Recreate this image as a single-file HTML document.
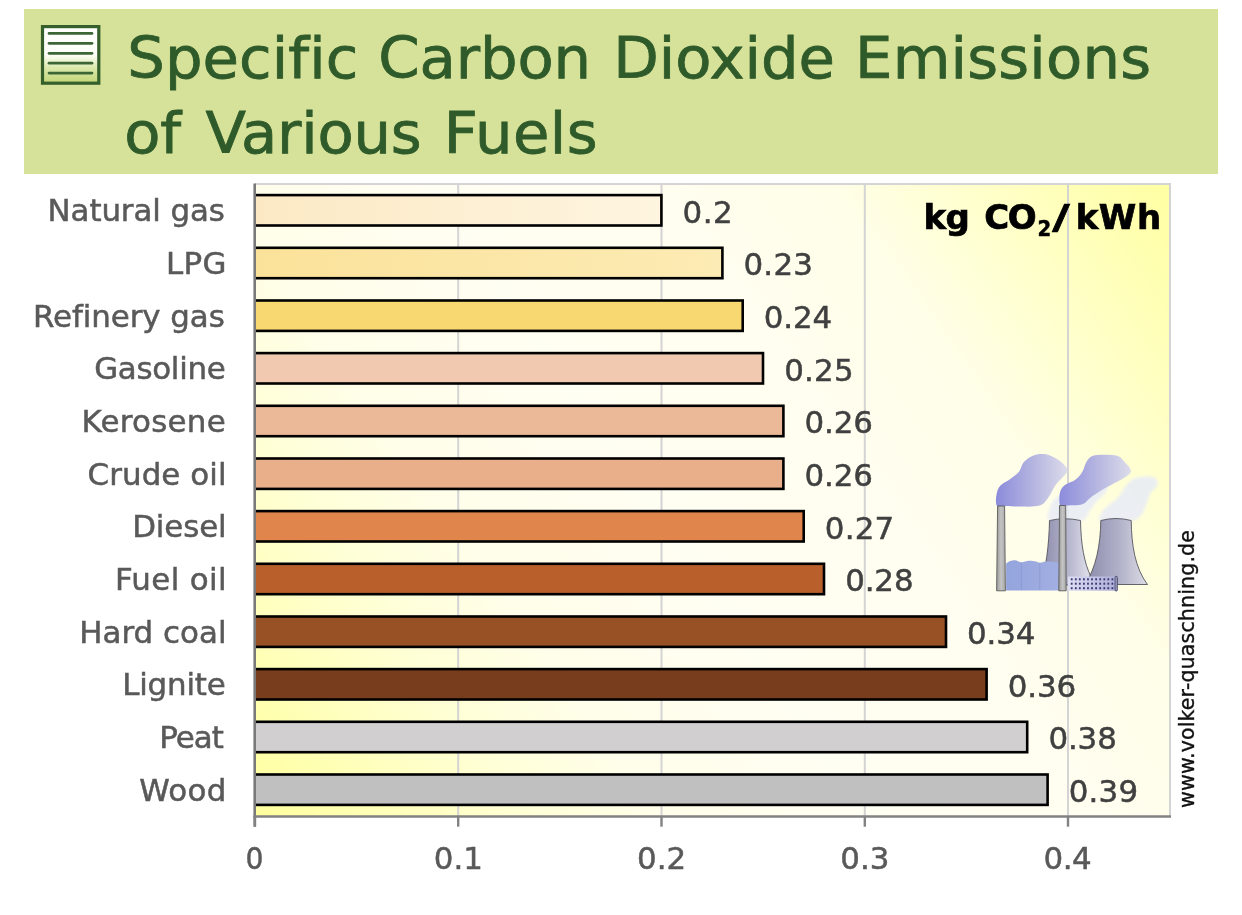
<!DOCTYPE html>
<html lang="en"><head><meta charset="utf-8"><title>Specific Carbon Dioxide Emissions of Various Fuels</title>
<style>
html,body{margin:0;padding:0;background:#fff;}
body{width:1242px;height:915px;overflow:hidden;position:relative;font-family:"DejaVu Sans","Liberation Sans",sans-serif;}
svg{position:absolute;left:0;top:0;display:block;}
text{font-family:"DejaVu Sans","Liberation Sans",sans-serif;white-space:pre;}
.title{font-size:57.5px;fill:#2f5a2a;stroke:#2f5a2a;stroke-width:0.8px;}
.cat{font-size:30px;fill:#595959;stroke:#595959;stroke-width:0.5px;}
.val{font-size:30px;fill:#404040;stroke:#404040;stroke-width:0.5px;}
.ax{font-size:30px;fill:#595959;stroke:#595959;stroke-width:0.5px;}
.unit{font-size:33px;font-weight:bold;fill:#000;stroke:#000;stroke-width:0.7px;}
.sub{font-size:21.5px;font-weight:bold;fill:#000;stroke:#000;stroke-width:0.5px;}
.url{font-size:20.5px;fill:#111;stroke:#111;stroke-width:0.35px;}
</style></head><body>
<svg width="1242" height="915" viewBox="0 0 1242 915">
<defs>
<linearGradient id="bg" gradientUnits="userSpaceOnUse" x1="255" y1="816" x2="1170" y2="184">
<stop offset="0" stop-color="#ffff9e"/><stop offset="0.1" stop-color="#ffffba"/><stop offset="0.2" stop-color="#ffffd6"/><stop offset="0.3" stop-color="#fffeea"/><stop offset="0.45" stop-color="#fffef2"/><stop offset="0.62" stop-color="#fffef0"/><stop offset="0.75" stop-color="#fffee8"/><stop offset="0.83" stop-color="#ffffd2"/><stop offset="0.92" stop-color="#ffffb8"/><stop offset="1" stop-color="#ffffa2"/>
</linearGradient>
<linearGradient id="b0" x1="0" y1="0" x2="1" y2="0"><stop offset="0" stop-color="#fce9c4"/><stop offset="1" stop-color="#fef5e0"/></linearGradient>
<linearGradient id="b1" x1="0" y1="0" x2="1" y2="0"><stop offset="0" stop-color="#fbe29a"/><stop offset="1" stop-color="#fcebb4"/></linearGradient>
<linearGradient id="ico" x1="0" y1="0" x2="0" y2="1"><stop offset="0" stop-color="#ffffff"/><stop offset="0.5" stop-color="#fdfef8"/><stop offset="0.72" stop-color="#dbe9ae"/><stop offset="1" stop-color="#c2d676"/></linearGradient>
</defs>

<rect x="24" y="9" width="1194" height="165" fill="#d6e29a"/>
<rect x="42.5" y="26.6" width="56.3" height="56.6" fill="url(#ico)" stroke="#35602c" stroke-width="3.2"/>
<line x1="49" y1="33.4" x2="92" y2="33.4" stroke="#3d6636" stroke-width="2.7" stroke-linecap="round"/>
<line x1="49" y1="43.3" x2="92" y2="43.3" stroke="#3d6636" stroke-width="2.7" stroke-linecap="round"/>
<line x1="49" y1="53.3" x2="92" y2="53.3" stroke="#3d6636" stroke-width="2.7" stroke-linecap="round"/>
<line x1="49" y1="63.2" x2="92" y2="63.2" stroke="#3d6636" stroke-width="2.7" stroke-linecap="round"/>
<line x1="49" y1="73.1" x2="92" y2="73.1" stroke="#3d6636" stroke-width="2.7" stroke-linecap="round"/>
<text class="title" transform="translate(0 77.60) scale(1.0300 1)"><tspan x="123.61" style="letter-spacing:0.062px">Specific</tspan> <tspan x="367.30" style="letter-spacing:-0.101px">Carbon</tspan> <tspan x="595.40" style="letter-spacing:-0.038px">Dioxide</tspan> <tspan x="830.16" style="letter-spacing:0.204px">Emissions</tspan></text>
<text class="title" transform="translate(0 153.20) scale(1.0300 1)"><tspan x="120.70" style="letter-spacing:-0.222px">of</tspan> <tspan x="199.43" style="letter-spacing:-0.234px">Various</tspan> <tspan x="430.84" style="letter-spacing:0.420px">Fuels</tspan></text>
<rect x="255.0" y="184.0" width="915.0" height="632.0" fill="url(#bg)"/>
<line x1="458.2" y1="184.0" x2="458.2" y2="816.0" stroke="#d4d4d4" stroke-width="2"/>
<line x1="661.5" y1="184.0" x2="661.5" y2="816.0" stroke="#d4d4d4" stroke-width="2"/>
<line x1="864.8" y1="184.0" x2="864.8" y2="816.0" stroke="#d4d4d4" stroke-width="2"/>
<line x1="1068.0" y1="184.0" x2="1068.0" y2="816.0" stroke="#d4d4d4" stroke-width="2"/>
<path d="M255.0 184.0 H1170.0 V816.0" fill="none" stroke="#d4d4d4" stroke-width="2"/>
<defs>
<linearGradient id="sm1" gradientUnits="userSpaceOnUse" x1="997" y1="0" x2="1068" y2="0"><stop offset="0" stop-color="#8c8cdc"/><stop offset="0.45" stop-color="#b0b0e0"/><stop offset="1" stop-color="#dcdcea"/></linearGradient>
<linearGradient id="sm2" gradientUnits="userSpaceOnUse" x1="1060" y1="0" x2="1131" y2="0"><stop offset="0" stop-color="#8c8cdc"/><stop offset="0.45" stop-color="#b0b0e0"/><stop offset="1" stop-color="#dcdcea"/></linearGradient>
<linearGradient id="tw1" gradientUnits="userSpaceOnUse" x1="1044" y1="0" x2="1092" y2="0"><stop offset="0" stop-color="#8f8fae"/><stop offset="0.5" stop-color="#b4b4cc"/><stop offset="1" stop-color="#e4e4ee"/></linearGradient>
<linearGradient id="tw2" gradientUnits="userSpaceOnUse" x1="1090" y1="0" x2="1147" y2="0"><stop offset="0" stop-color="#9090b0"/><stop offset="0.5" stop-color="#b0b0c8"/><stop offset="1" stop-color="#dcdce6"/></linearGradient>
<linearGradient id="chm" x1="0" y1="0" x2="1" y2="0"><stop offset="0" stop-color="#9a9a9a"/><stop offset="0.5" stop-color="#c4c4c4"/><stop offset="1" stop-color="#a8a8a8"/></linearGradient>
<linearGradient id="bld" gradientUnits="userSpaceOnUse" x1="1006" y1="0" x2="1060" y2="0"><stop offset="0" stop-color="#94a4dd"/><stop offset="1" stop-color="#a2afe2"/></linearGradient>
<linearGradient id="sb" x1="0" y1="0" x2="1" y2="0"><stop offset="0" stop-color="#dedef4"/><stop offset="0.5" stop-color="#c6c6e8"/><stop offset="1" stop-color="#aeaed8"/></linearGradient>
<filter id="soft" x="-5%" y="-5%" width="110%" height="110%"><feGaussianBlur stdDeviation="0.6"/></filter>
<filter id="soft2" x="-10%" y="-10%" width="120%" height="120%"><feGaussianBlur stdDeviation="1.5"/></filter>
</defs>
<g>
<path d="M1050.0 521.0C1044.8 518.8 1049.3 511.5 1050.0 508.0C1050.7 504.5 1052.0 502.3 1054.0 500.0C1056.0 497.7 1058.5 496.0 1062.0 494.0C1065.5 492.0 1069.5 490.3 1075.0 488.0C1080.5 485.7 1089.2 482.0 1095.0 480.0C1100.8 478.0 1108.2 474.0 1110.0 476.0C1111.8 478.0 1108.0 488.0 1106.0 492.0C1104.0 496.0 1100.7 497.0 1098.0 500.0C1095.3 503.0 1092.8 506.5 1090.0 510.0C1087.2 513.5 1087.7 519.2 1081.0 521.0C1074.3 522.8 1055.2 523.2 1050.0 521.0Z" fill="#e9edf5" opacity="0.9" filter="url(#soft2)"/>
<path d="M1100.8 521.0C1095.8 519.6 1100.6 515.3 1101.7 512.8C1102.8 510.3 1104.9 508.6 1107.6 506.0C1110.3 503.4 1115.0 500.6 1117.8 497.5C1120.6 494.4 1122.1 490.5 1124.6 487.4C1127.1 484.3 1129.6 480.7 1133.0 478.9C1136.4 477.1 1141.2 476.5 1144.9 476.4C1148.6 476.2 1153.0 476.6 1155.1 478.0C1157.2 479.4 1158.4 482.1 1157.6 484.8C1156.8 487.5 1151.8 490.9 1150.0 494.2C1148.2 497.4 1148.0 500.9 1146.6 504.3C1145.2 507.7 1144.0 511.7 1141.5 514.5C1139.0 517.3 1138.2 519.9 1131.4 521.0C1124.6 522.1 1105.8 522.4 1100.8 521.0Z" fill="#e9edf5" opacity="0.9" filter="url(#soft2)"/>
<path d="M1049.5 520.5 Q1065 517 1080.5 520.5 C1081 545 1084 562 1091 577 L1094 585 L1040 585 C1046 570 1049 545 1049.5 520.5Z" fill="url(#tw1)" stroke="#55555f" stroke-width="0.9"/>
<path d="M1100.8 520.5 Q1116 516.5 1131.2 520.5 C1131.5 545 1135 568 1147.5 584.5 L1085 584.5 C1096 568 1100.5 545 1100.8 520.5Z" fill="url(#tw2)" stroke="#55555f" stroke-width="0.9"/>
<path d="M1006.1 563.6C1006.8 563.2 1008.8 561.7 1010.3 561.1C1011.8 560.5 1013.5 560.1 1015.4 560.3C1017.2 560.5 1019.1 562.2 1021.4 562.3C1023.7 562.4 1026.6 560.9 1029.0 560.8C1031.4 560.7 1034.0 561.3 1035.8 561.6C1037.6 561.9 1038.3 562.8 1040.0 562.8C1041.7 562.8 1043.5 561.7 1045.9 561.6C1048.3 561.5 1052.0 561.7 1054.4 562.0C1056.8 562.3 1059.3 563.3 1060.3 563.6 L1060.3 590.5 L1006.1 590.5 Z" fill="url(#bld)"/>
<path d="M1021.4 563 V590 M1039.8 563.5 V590" stroke="#8897d0" stroke-width="0.7" fill="none"/>
<path d="M996.8 505.5C995.3 503.5 996.0 497.5 996.6 494.2C997.2 490.9 997.9 488.2 1000.2 485.7C1002.5 483.1 1007.2 481.2 1010.3 478.9C1013.4 476.6 1016.5 474.9 1018.8 472.1C1021.1 469.3 1021.4 464.8 1023.9 462.0C1026.5 459.2 1030.4 456.5 1034.1 455.2C1037.8 453.9 1042.2 453.7 1045.9 454.3C1049.6 454.9 1053.0 456.8 1056.1 458.6C1059.2 460.4 1062.8 463.2 1064.6 465.3C1066.4 467.4 1067.8 469.2 1067.2 471.5C1066.6 473.8 1063.0 476.7 1061.0 479.0C1059.0 481.3 1057.3 482.4 1055.2 485.5C1053.1 488.6 1050.8 494.3 1048.2 497.7C1045.6 501.1 1044.1 504.1 1039.4 505.6C1034.7 507.1 1025.9 506.5 1020.2 506.6C1014.5 506.7 1009.2 506.2 1005.3 506.0C1001.4 505.8 998.2 507.5 996.8 505.5Z" fill="url(#sm1)" filter="url(#soft)"/>
<path d="M1060.2 505.5C1059.0 503.3 1059.2 495.9 1060.0 492.5C1060.8 489.1 1062.7 486.9 1065.3 484.8C1067.9 482.7 1072.6 481.8 1075.4 479.7C1078.2 477.6 1080.4 475.1 1082.2 472.1C1084.0 469.2 1084.7 464.7 1086.4 462.0C1088.1 459.3 1089.4 457.2 1092.4 456.0C1095.4 454.8 1100.0 454.8 1104.2 454.8C1108.4 454.8 1114.4 454.8 1117.8 456.0C1121.2 457.2 1122.4 459.6 1124.6 462.0C1126.8 464.4 1130.7 468.0 1131.0 470.4C1131.3 472.8 1129.1 474.3 1126.3 476.4C1123.5 478.5 1118.7 480.7 1114.4 483.1C1110.2 485.5 1104.8 488.4 1100.8 490.8C1096.8 493.2 1093.8 495.2 1090.7 497.5C1087.6 499.8 1086.2 503.0 1082.2 504.3C1078.2 505.6 1070.6 505.3 1066.9 505.5C1063.2 505.7 1061.4 507.7 1060.2 505.5Z" fill="url(#sm2)" filter="url(#soft)"/>
<path d="M997.6 506 H1004.6 L1005.4 590.8 H996.6 Z" fill="url(#chm)" stroke="#5a5a5a" stroke-width="0.9"/>
<path d="M1059.5 505.5 H1065.7 L1066.2 590.8 H1058.8 Z" fill="url(#chm)" stroke="#5a5a5a" stroke-width="0.9"/>
<rect x="1067.9" y="576.6" width="48.6" height="14.2" rx="0.8" fill="url(#sb)"/>
<rect x="1115" y="576.3" width="2.4" height="14.8" rx="1.2" fill="#9a9ac4" stroke="#34344e" stroke-width="0.7"/>
<rect x="1070.8" y="578.3" width="1.8" height="2" fill="#3a3a70"/>
<rect x="1074.9" y="578.3" width="1.8" height="2" fill="#3a3a70"/>
<rect x="1078.9" y="578.3" width="1.8" height="2" fill="#3a3a70"/>
<rect x="1083.0" y="578.3" width="1.8" height="2" fill="#3a3a70"/>
<rect x="1087.1" y="578.3" width="1.8" height="2" fill="#3a3a70"/>
<rect x="1091.1" y="578.3" width="1.8" height="2" fill="#3a3a70"/>
<rect x="1095.2" y="578.3" width="1.8" height="2" fill="#3a3a70"/>
<rect x="1099.3" y="578.3" width="1.8" height="2" fill="#3a3a70"/>
<rect x="1103.4" y="578.3" width="1.8" height="2" fill="#3a3a70"/>
<rect x="1107.4" y="578.3" width="1.8" height="2" fill="#3a3a70"/>
<rect x="1111.5" y="578.3" width="1.8" height="2" fill="#3a3a70"/>
<rect x="1070.8" y="582.7" width="1.8" height="2" fill="#3a3a70"/>
<rect x="1074.9" y="582.7" width="1.8" height="2" fill="#3a3a70"/>
<rect x="1078.9" y="582.7" width="1.8" height="2" fill="#3a3a70"/>
<rect x="1083.0" y="582.7" width="1.8" height="2" fill="#3a3a70"/>
<rect x="1087.1" y="582.7" width="1.8" height="2" fill="#3a3a70"/>
<rect x="1091.1" y="582.7" width="1.8" height="2" fill="#3a3a70"/>
<rect x="1095.2" y="582.7" width="1.8" height="2" fill="#3a3a70"/>
<rect x="1099.3" y="582.7" width="1.8" height="2" fill="#3a3a70"/>
<rect x="1103.4" y="582.7" width="1.8" height="2" fill="#3a3a70"/>
<rect x="1107.4" y="582.7" width="1.8" height="2" fill="#3a3a70"/>
<rect x="1111.5" y="582.7" width="1.8" height="2" fill="#3a3a70"/>
<rect x="1070.8" y="587.2" width="1.8" height="2" fill="#3a3a70"/>
<rect x="1074.9" y="587.2" width="1.8" height="2" fill="#3a3a70"/>
<rect x="1078.9" y="587.2" width="1.8" height="2" fill="#3a3a70"/>
<rect x="1083.0" y="587.2" width="1.8" height="2" fill="#3a3a70"/>
<rect x="1087.1" y="587.2" width="1.8" height="2" fill="#3a3a70"/>
<rect x="1091.1" y="587.2" width="1.8" height="2" fill="#3a3a70"/>
<rect x="1095.2" y="587.2" width="1.8" height="2" fill="#3a3a70"/>
<rect x="1099.3" y="587.2" width="1.8" height="2" fill="#3a3a70"/>
<rect x="1103.4" y="587.2" width="1.8" height="2" fill="#3a3a70"/>
<rect x="1107.4" y="587.2" width="1.8" height="2" fill="#3a3a70"/>
<rect x="1111.5" y="587.2" width="1.8" height="2" fill="#3a3a70"/>
</g>
<rect x="252.0" y="195.1" width="409.4" height="30.4" fill="url(#b0)" stroke="#000" stroke-width="2.6"/>
<text class="val" transform="translate(682.53 222.53) scale(1.0300 1)" style="letter-spacing:0.545px" >0.2</text>
<text class="cat" transform="translate(47.60 221.23) scale(1.0300 1)" style="letter-spacing:-0.112px" >Natural gas</text>
<rect x="252.0" y="247.8" width="470.4" height="30.4" fill="url(#b1)" stroke="#000" stroke-width="2.6"/>
<text class="val" transform="translate(743.50 275.20) scale(1.0300 1)" style="letter-spacing:0.215px" >0.23</text>
<text class="cat" transform="translate(166.00 273.90) scale(1.0300 1)" style="letter-spacing:0.372px" >LPG</text>
<rect x="252.0" y="300.5" width="490.7" height="30.4" fill="#f8d870" stroke="#000" stroke-width="2.6"/>
<text class="val" transform="translate(763.83 327.87) scale(1.0300 1)" style="letter-spacing:-0.119px" >0.24</text>
<text class="cat" transform="translate(33.00 326.57) scale(1.0300 1)" style="letter-spacing:-0.063px" >Refinery gas</text>
<rect x="252.0" y="353.1" width="511.0" height="30.4" fill="#f0c9b0" stroke="#000" stroke-width="2.6"/>
<text class="val" transform="translate(784.15 380.53) scale(1.0300 1)" style="letter-spacing:0.215px" >0.25</text>
<text class="cat" transform="translate(94.23 379.23) scale(1.0300 1)" style="letter-spacing:-0.296px" >Gasoline</text>
<rect x="252.0" y="405.8" width="531.4" height="30.4" fill="#ecb998" stroke="#000" stroke-width="2.6"/>
<text class="val" transform="translate(804.48 433.20) scale(1.0300 1)" style="letter-spacing:-0.119px" >0.26</text>
<text class="cat" transform="translate(81.50 431.90) scale(1.0300 1)" style="letter-spacing:0.260px" >Kerosene</text>
<rect x="252.0" y="458.5" width="531.4" height="30.4" fill="#e9af8a" stroke="#000" stroke-width="2.6"/>
<text class="val" transform="translate(804.48 485.87) scale(1.0300 1)" style="letter-spacing:-0.119px" >0.26</text>
<text class="cat" transform="translate(87.53 484.57) scale(1.0300 1)" style="letter-spacing:0.089px" >Crude oil</text>
<rect x="252.0" y="511.1" width="551.7" height="30.4" fill="#e0864c" stroke="#000" stroke-width="2.6"/>
<text class="val" transform="translate(824.80 538.53) scale(1.0300 1)" style="letter-spacing:0.215px" >0.27</text>
<text class="cat" transform="translate(132.20 537.23) scale(1.0300 1)" style="letter-spacing:-0.123px" >Diesel</text>
<rect x="252.0" y="563.8" width="572.0" height="30.4" fill="#b85f2b" stroke="#000" stroke-width="2.6"/>
<text class="val" transform="translate(845.13 591.20) scale(1.0300 1)" style="letter-spacing:-0.119px" >0.28</text>
<text class="cat" transform="translate(114.90 589.90) scale(1.0300 1)" style="letter-spacing:0.359px" >Fuel oil</text>
<rect x="252.0" y="616.5" width="694.0" height="30.4" fill="#975125" stroke="#000" stroke-width="2.6"/>
<text class="val" transform="translate(967.08 643.87) scale(1.0300 1)" style="letter-spacing:-0.119px" >0.34</text>
<text class="cat" transform="translate(79.20 642.57) scale(1.0300 1)" style="letter-spacing:0.032px" >Hard coal</text>
<rect x="252.0" y="669.1" width="734.6" height="30.4" fill="#783d1d" stroke="#000" stroke-width="2.6"/>
<text class="val" transform="translate(1007.73 696.53) scale(1.0300 1)" style="letter-spacing:-0.119px" >0.36</text>
<text class="cat" transform="translate(122.20 695.23) scale(1.0300 1)" style="letter-spacing:-0.188px" >Lignite</text>
<rect x="252.0" y="721.8" width="775.2" height="30.4" fill="#d1cfcf" stroke="#000" stroke-width="2.6"/>
<text class="val" transform="translate(1048.38 749.20) scale(1.0300 1)" style="letter-spacing:-0.119px" >0.38</text>
<text class="cat" transform="translate(159.20 747.90) scale(1.0300 1)" style="letter-spacing:-0.904px" >Peat</text>
<rect x="252.0" y="774.5" width="795.6" height="30.4" fill="#c0c0c0" stroke="#000" stroke-width="2.6"/>
<text class="val" transform="translate(1068.70 801.87) scale(1.0300 1)" style="letter-spacing:0.215px" >0.39</text>
<text class="cat" transform="translate(139.23 800.57) scale(1.0300 1)" style="letter-spacing:0.308px" >Wood</text>
<rect x="249.0" y="182.0" width="5" height="636.0" fill="#fff"/>
<line x1="254.7" y1="183.5" x2="254.7" y2="826.7" stroke="#7a7a7a" stroke-width="2.6"/>
<line x1="253.4" y1="816.5" x2="1171.0" y2="816.5" stroke="#828282" stroke-width="2.6"/>
<line x1="255.0" y1="816.0" x2="255.0" y2="826.7" stroke="#828282" stroke-width="2.4"/>
<text class="ax" transform="translate(245.54 869.00) scale(0.9429 1)" style="letter-spacing:0.000px" >0</text>
<line x1="458.2" y1="816.0" x2="458.2" y2="826.7" stroke="#828282" stroke-width="2.4"/>
<text class="ax" transform="translate(433.73 869.00) scale(1.0300 1)" style="letter-spacing:0.011px" >0.1</text>
<line x1="661.5" y1="816.0" x2="661.5" y2="826.7" stroke="#828282" stroke-width="2.4"/>
<text class="ax" transform="translate(636.98 869.00) scale(1.0300 1)" style="letter-spacing:0.011px" >0.2</text>
<line x1="864.8" y1="816.0" x2="864.8" y2="826.7" stroke="#828282" stroke-width="2.4"/>
<text class="ax" transform="translate(840.23 869.00) scale(1.0300 1)" style="letter-spacing:0.011px" >0.3</text>
<line x1="1068.0" y1="816.0" x2="1068.0" y2="826.7" stroke="#828282" stroke-width="2.4"/>
<text class="ax" transform="translate(1043.48 869.00) scale(1.0300 1)" style="letter-spacing:-0.489px" >0.4</text>
<text class="unit" transform="translate(923.50 228.70) scale(1.0300 1)" style="letter-spacing:-0.481px" >kg</text>
<text class="unit" transform="translate(984.33 228.70) scale(1.0300 1)" style="letter-spacing:-1.404px" >CO</text>
<text class="sub" transform="translate(1037.38 235.50) scale(0.9154 1)" style="letter-spacing:0.000px" >2</text>
<text class="unit" transform="translate(1052.2 228.7) scale(1.45 1)">/</text>
<text class="unit" transform="translate(1075.70 228.70) scale(1.0300 1)" style="letter-spacing:0.540px" >kWh</text>
<text class="url" transform="translate(1193.6 808) rotate(-90)" style="letter-spacing:0.174px">www.volker-quaschning.de</text>
</svg></body></html>
